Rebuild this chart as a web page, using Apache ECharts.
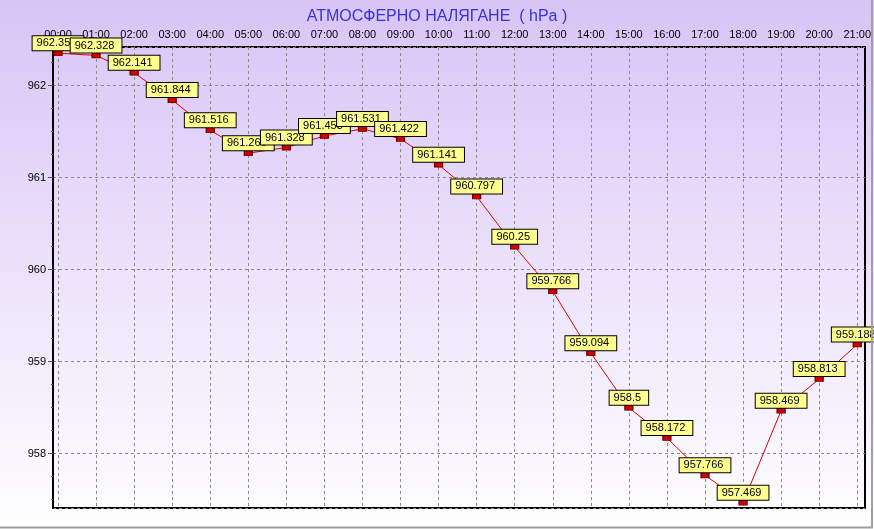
<!DOCTYPE html>
<html>
<head>
<meta charset="utf-8">
<style>
html,body{margin:0;padding:0;background:#fff;}
#main{width:874px;height:529px;}
</style>
<script src="https://cdn.jsdelivr.net/npm/echarts@6/dist/echarts.min.js"></script>
</head>
<body>
<div id="main"></div>
<script>
const titleText = 'АТМОСФЕРНО НАЛЯГАНЕ  ( hPa )';
const hours = ['00:00','01:00','02:00','03:00','04:00','05:00','06:00','07:00','08:00','09:00','10:00',
  '11:00','12:00','13:00','14:00','15:00','16:00','17:00','18:00','19:00','20:00','21:00'];
const pressure = [962.353, 962.328, 962.141, 961.844, 961.516, 961.266, 961.328, 961.453, 961.531, 961.422, 961.141,
  960.797, 960.25, 959.766, 959.094, 958.5, 958.172, 957.766, 957.469, 958.469, 958.813, 959.188];
const yMin = 957.41, yMax = 962.42;
const yMinorTicks = [957.5, 957.75, 958.25, 958.5, 958.75, 959.25, 959.5, 959.75, 960.25, 960.5, 960.75,
  961.25, 961.5, 961.75, 962.25];
const xMinorSlots = [];
for (let i = 0; i <= 105; i++) xMinorSlots.push(String(i));

const FONT = '"Liberation Sans", Arial, sans-serif';
const chart = echarts.init(document.getElementById('main'), null, {renderer: 'canvas'});
const dashed = {show: true, lineStyle: {color: '#8a8a8a', type: [3, 3], width: 1}};

chart.setOption({
  animation: false,
  backgroundColor: {
    type: 'linear', x: 0, y: 0, x2: 0, y2: 1,
    colorStops: [{offset: 0, color: '#d8c4f6'}, {offset: 1, color: '#ffffff'}]
  },
  title: {
    text: titleText, left: 'center', top: 4,
    textStyle: {color: '#3434dc', fontSize: 16, fontWeight: 'normal', fontFamily: FONT}
  },
  graphic: [
    {type: 'line', shape: {x1: 872, y1: 0, x2: 872, y2: 528}, style: {stroke: '#a0a0a0', lineWidth: 2}, z: 100},
    {type: 'line', shape: {x1: 0, y1: 527.5, x2: 873, y2: 527.5}, style: {stroke: '#a0a0a0', lineWidth: 2}, z: 100}
  ],
  grid: [
    {left: 53, right: 9, top: 47, bottom: 21, show: true, backgroundColor: 'transparent', borderColor: '#000', borderWidth: 2},
    {left: 58, right: 13, top: 47, bottom: 21},
    {left: 58, right: 13, top: 47, height: 1}
  ],
  xAxis: [
    {gridIndex: 0, type: 'value', show: false, splitLine: {show: false}},
    {gridIndex: 1, type: 'category', data: hours, boundaryGap: false, position: 'top',
      axisLine: {show: false}, axisTick: {show: false},
      axisLabel: {color: '#000', fontSize: 11, fontFamily: FONT, margin: 7, interval: 0},
      splitLine: Object.assign({interval: 0}, dashed)},
    {gridIndex: 2, type: 'category', data: xMinorSlots, boundaryGap: false, position: 'top',
      axisLine: {show: false}, axisLabel: {show: false}, splitLine: {show: false},
      axisTick: {show: true, interval: 0, length: 2, lineStyle: {color: '#555'}}}
  ],
  yAxis: [
    {gridIndex: 0, type: 'value', min: yMin, max: yMax, splitNumber: 5,
      axisLine: {show: true, lineStyle: {color: '#000', width: 2}},
      axisTick: {show: true, length: 5, lineStyle: {color: '#555'}},
      axisLabel: {color: '#000', fontSize: 11, fontFamily: FONT, margin: 7, showMinLabel: false, showMaxLabel: false},
      splitLine: dashed},
    {gridIndex: 0, type: 'value', min: yMin, max: yMax, position: 'left',
      axisLine: {show: false}, axisLabel: {show: false}, splitLine: {show: false},
      axisTick: {show: true, length: 2, customValues: yMinorTicks, lineStyle: {color: '#555'}}},
    {gridIndex: 1, type: 'value', min: yMin, max: yMax, show: false, splitLine: {show: false}},
    {gridIndex: 2, type: 'value', show: false, splitLine: {show: false}}
  ],
  series: [{
    type: 'line',
    xAxisIndex: 1, yAxisIndex: 2,
    data: pressure,
    symbol: 'rect', symbolSize: [8, 5],
    showAllSymbol: true,
    lineStyle: {color: '#e00000', width: 1},
    itemStyle: {color: '#d00000', borderColor: '#700000', borderWidth: 1},
    label: {
      show: true, position: 'top', distance: 0,
      color: '#000', fontSize: 11, fontFamily: FONT, lineHeight: 12,
      backgroundColor: '#ffff90', borderColor: '#000', borderWidth: 1,
      padding: [1, 7, 1, 4],
      formatter: p => String(p.value)
    },
    emphasis: {disabled: true},
    z: 5
  }]
});
</script>
</body>
</html>
